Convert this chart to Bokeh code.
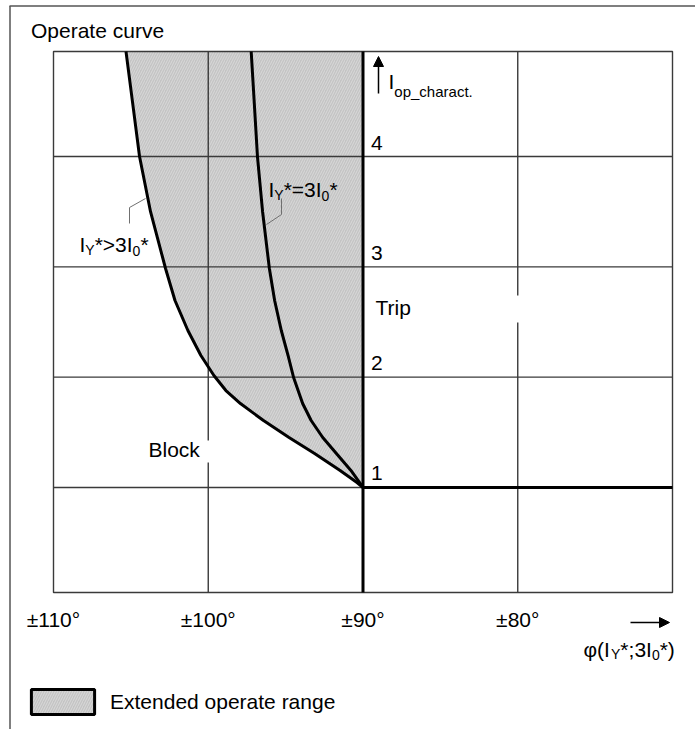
from bokeh.plotting import figure
from bokeh.models import Range1d, Label, Arrow, NormalHead, Legend, LegendItem
from bokeh.core.properties import value
from bokeh.embed import file_html
from bokeh.resources import INLINE

FONT = "Liberation Sans"

# ---------------- data ----------------
X_TICKS = [110, 100, 90, 80]
X_TICK_LABELS = ["±110°", "±100°", "±90°", "±80°"]
X_GRID = [100, 90, 80]
Y_TICKS = [1, 2, 3, 4]
Y_TICK_LABELS = ["1", "2", "3", "4"]
X_MIN, X_MAX = 110, 70          # diagram box, left -> right
Y_MIN, Y_MAX = 0.048, 4.952     # diagram box, bottom -> top
BOUNDARY_DEG = 90               # ±90° limit line
MIN_CURRENT = 1                 # I_op_charact. = 1 base line
LEGEND_LABEL = "Extended operate range"

# curve  I_Y* > 3I_0*  (outer limit of extended operate range)
OUTER_Y = [4.952, 4.5, 4.0, 3.5, 2.985, 2.695, 2.423, 2.196, 2.015, 1.879, 1.761,
           1.607, 1.453, 1.308, 1.154, 1.045, 1.0]
OUTER_X = [105.315, 104.9, 104.44, 103.73, 102.76, 102.15, 101.315, 100.475, 99.635,
           98.86, 97.92, 96.43, 94.78, 93.13, 91.48, 90.39, 90.0]
# curve  I_Y* = 3I_0*
INNER_Y = [4.952, 4.0, 3.502, 2.985, 2.695, 2.423, 2.196, 1.997, 1.761, 1.607, 1.453,
           1.308, 1.154, 1.0]
INNER_X = [97.225, 96.82, 96.49, 96.05, 95.71, 95.28, 94.84, 94.485, 93.90, 93.35, 92.60,
           91.72, 90.78, 90.0]

# ---------------- layout (picture pixels) ----------------
W, H = 695, 729
BOX_L, BOX_R, BOX_T, BOX_B = 53, 672, 51, 592
XS = (X_MAX - X_MIN) / (BOX_R - BOX_L)      # data per px
YS = (Y_MAX - Y_MIN) / (BOX_B - BOX_T)
X_LEFT_EDGE = X_MIN - BOX_L * XS
X_RIGHT_EDGE = X_MIN + (W - BOX_L) * XS
Y_TOP_EDGE = Y_MAX + BOX_T * YS
Y_BOTTOM_EDGE = Y_MAX - (H - BOX_T) * YS
FIXK = 0.38   # baseline correction of svg text (fraction of font size)


def dx(px):
    return X_LEFT_EDGE + px * XS


def dy(py):
    return Y_TOP_EDGE - py * YS


p = figure(width=W, height=H, output_backend="svg", toolbar_location=None,
           x_range=Range1d(X_LEFT_EDGE, X_RIGHT_EDGE),
           y_range=Range1d(Y_BOTTOM_EDGE, Y_TOP_EDGE),
           x_axis_location=None, y_axis_location=None,
           min_border=0, min_border_left=0, min_border_right=0,
           min_border_top=0, min_border_bottom=0,
           background_fill_color="white", border_fill_color="white")
p.grid.visible = False
p.outline_line_alpha = 0

FILL = "#c4c4c4"
HATCH = "#d9d9d9"
GRID = "#3a3a3a"
AREA_STYLE = dict(fill_color=FILL, hatch_pattern="/", hatch_color=HATCH,
                  hatch_scale=5, hatch_weight=1)

# extended operate range (between outer curve and the ±90° line)
p.patch(x=OUTER_X + [BOUNDARY_DEG], y=OUTER_Y + [Y_MAX], line_alpha=0, **AREA_STYLE)

# grid and box
p.segment(x0=X_GRID, x1=X_GRID, y0=[Y_MIN] * len(X_GRID), y1=[Y_MAX] * len(X_GRID),
          line_color=GRID, line_width=1.4)
p.segment(x0=[X_MIN] * len(Y_TICKS), x1=[X_MAX] * len(Y_TICKS), y0=Y_TICKS, y1=Y_TICKS,
          line_color=GRID, line_width=1.4)
p.quad(left=X_MIN, right=X_MAX, bottom=Y_MIN, top=Y_MAX, fill_alpha=0,
       line_color=GRID, line_width=1.4)

# white gaps behind the text boxes
p.quad(left=[dx(205), dx(515)], right=[dx(211), dx(521)],
       top=[dy(440), dy(295)], bottom=[dy(462), dy(322)],
       fill_color="white", line_alpha=0)

# curves and thick boundary lines
p.line(x=OUTER_X, y=OUTER_Y, line_color="black", line_width=3, line_join="round")
p.line(x=INNER_X, y=INNER_Y, line_color="black", line_width=3, line_join="round")
p.line(x=[BOUNDARY_DEG, BOUNDARY_DEG], y=[Y_MIN, Y_MAX], line_color="black", line_width=3)
p.line(x=[BOUNDARY_DEG, X_MAX], y=[MIN_CURRENT, MIN_CURRENT], line_color="black",
       line_width=3)

# leader lines
p.line(x=[dx(145), dx(129), dx(129)], y=[dy(198), dy(207), dy(223)],
       line_color="#707070", line_width=1)
p.line(x=[dx(266), dx(281), dx(281)], y=[dy(224), dy(214), dy(198)],
       line_color="#707070", line_width=1)

# outer frame (top and left)
p.line(x=[dx(9), dx(W)], y=[dy(5.5), dy(5.5)], line_color="#555555", line_width=1.5)
p.line(x=[dx(9.5), dx(9.5)], y=[dy(5.5), dy(H)], line_color="#555555", line_width=1.5)

# tick labels
p.text(x=X_TICKS, y=[dy(627 - FIXK * 21)] * len(X_TICKS), text=X_TICK_LABELS,
       text_align="center", text_baseline="alphabetic",
       text_font=value(FONT), text_font_size="21px", text_color="black")
p.text(x=[BOUNDARY_DEG] * len(Y_TICKS),
       y=[t + (6 + FIXK * 21) * YS for t in Y_TICKS], text=Y_TICK_LABELS,
       x_offset=8, text_baseline="alphabetic", text_align="left",
       text_font=value(FONT), text_font_size="21px", text_color="black")

WID = {"I": 278, "Y": 667, "*": 389, ">": 584, "=": 584, "3": 556, "0": 556,
       ";": 278, "(": 333, ")": 333, "φ": 700, "o": 556, "p": 556, "_": 556,
       "c": 500, "h": 556, "a": 556, "r": 333, "t": 278, ".": 278}


def rich(x_px, base_px, pieces):
    cx = x_px
    for txt, size, off in pieces:
        p.add_layout(Label(x=dx(cx), y=dy(base_px + off - FIXK * size), text=txt,
                           text_font=FONT, text_font_size=f"{size}px",
                           text_baseline="alphabetic", text_color="black"))
        cx += sum(WID.get(c, 556) for c in txt) * size / 1000


rich(30.5, 37.5, [("Operate curve", 21, 0)])
rich(79, 252, [("I", 21, 0), ("Y", 14, 3), ("*>3I", 21, 0), ("0", 14, 4), ("*", 21, 0)])
rich(268, 197, [("I", 21, 0), ("Y", 14, 3), ("*=3I", 21, 0), ("0", 14, 4), ("*", 21, 0)])
rich(583, 657, [("φ(I", 21, 0), ("Y", 14, 2), ("*;3I", 21, 0), ("0", 14, 3), ("*)", 21, 0)])
rich(388, 89, [("I", 21, 0), ("op_charact.", 15, 8)])
rich(375, 315, [("Trip", 21, 0)])
rich(148, 457, [("Block", 21, 0)])

# arrows
p.add_layout(Arrow(x_start=dx(378), y_start=dy(93), x_end=dx(378), y_end=dy(56),
                   line_width=1.5, line_color="black",
                   end=NormalHead(size=10, fill_color="black", line_color="black")))
p.add_layout(Arrow(x_start=dx(630), y_start=dy(622), x_end=dx(669), y_end=dy(622),
                   line_width=1.5, line_color="black",
                   end=NormalHead(size=10, fill_color="black", line_color="black")))

# legend (swatch drawn by the legend itself)
swatch = p.quad(left=[dx(23)], right=[dx(102)], top=[dy(686)], bottom=[dy(717)],
                line_color="black", line_width=3, **AREA_STYLE)
swatch.visible = False
legend = Legend(items=[LegendItem(label=LEGEND_LABEL, renderers=[swatch])],
                location=(23, H - 717), padding=0, margin=0, spacing=0,
                glyph_width=79, glyph_height=31, label_standoff=8,
                label_text_font=FONT, label_text_font_size="21px",
                label_text_color="black", border_line_alpha=0,
                background_fill_alpha=0)
p.add_layout(legend)

open("out.html", "w").write(file_html(p, INLINE))
